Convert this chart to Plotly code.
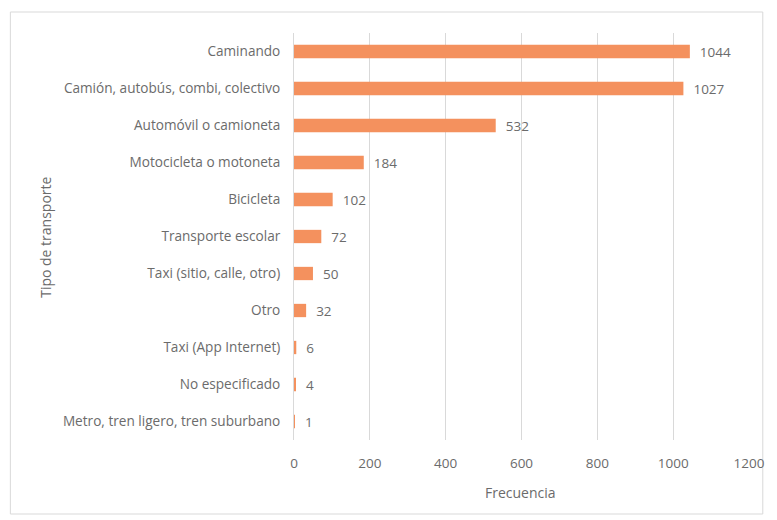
import plotly.graph_objects as go

categorias = [
    "Caminando",
    "Camión, autobús, combi, colectivo",
    "Automóvil o camioneta",
    "Motocicleta o motoneta",
    "Bicicleta",
    "Transporte escolar",
    "Taxi (sitio, calle, otro)",
    "Otro",
    "Taxi (App Internet)",
    "No especificado",
    "Metro, tren ligero, tren suburbano",
]
frecuencias = [1044, 1027, 532, 184, 102, 72, 50, 32, 6, 4, 1]
x_ticks = [0, 200, 400, 600, 800, 1000, 1200]

FONT = "Open Sans"
GRAY = "#6b6b6b"

W, H = 777, 520
L, R, T, B = 294, 21, 33, 80
pw, ph = W - L - R, H - T - B

def px(xp):
    return (xp - L) / pw

def py(yp):
    return (H - B - yp) / ph

fig = go.Figure(
    go.Bar(
        x=frecuencias,
        y=categorias,
        orientation="h",
        marker=dict(color="#F4915E", line=dict(width=0)),
        text=["\u00a0\u00a0" + str(v) for v in frecuencias],
        textposition="outside",
        constraintext="none",
        textfont=dict(family=FONT, size=13.5, color=GRAY),
        cliponaxis=False,
        width=0.36,
    )
)

fig.update_layout(
    width=W,
    height=H,
    margin=dict(l=L, r=R, t=T, b=B),
    paper_bgcolor="white",
    plot_bgcolor="white",
    showlegend=False,
    font=dict(family=FONT, size=13.6, color=GRAY),
    xaxis=dict(
        range=[0, 1200],
        tickvals=x_ticks,
        ticktext=[str(t) for t in x_ticks],
        showgrid=True,
        gridcolor="#D9D9D9",
        gridwidth=1,
        zeroline=False,
        showline=False,
        ticks="",
        tickfont=dict(family=FONT, size=13.5, color=GRAY),
        ticklabelstandoff=13,
        fixedrange=True,
    ),
    yaxis=dict(
        autorange="reversed",
        showgrid=False,
        zeroline=False,
        showline=True,
        linecolor="#D9D9D9",
        linewidth=1,
        ticks="",
        ticklabelstandoff=10,
        tickfont=dict(family=FONT, size=13.6, color=GRAY),
        fixedrange=True,
    ),
    annotations=[
        dict(text="Frecuencia", xref="paper", yref="paper", x=px(524), y=py(492),
             showarrow=False, font=dict(family=FONT, size=14, color=GRAY),
             xanchor="center", yanchor="middle"),
        dict(text="Tipo de transporte", xref="paper", yref="paper", x=px(42), y=py(237),
             showarrow=False, textangle=-90, font=dict(family=FONT, size=14, color=GRAY),
             xanchor="center", yanchor="middle"),
    ],
    shapes=[
        dict(type="rect", xref="paper", yref="paper",
             x0=px(6), x1=px(770), y0=py(514), y1=py(12),
             line=dict(color="#D9D9D9", width=1), fillcolor="rgba(0,0,0,0)", layer="below"),
    ],
)

fig.write_html(
    "out.html",
    config={"displayModeBar": False},
    post_script="document.body.style.margin='0';document.body.style.padding='0';",
)
